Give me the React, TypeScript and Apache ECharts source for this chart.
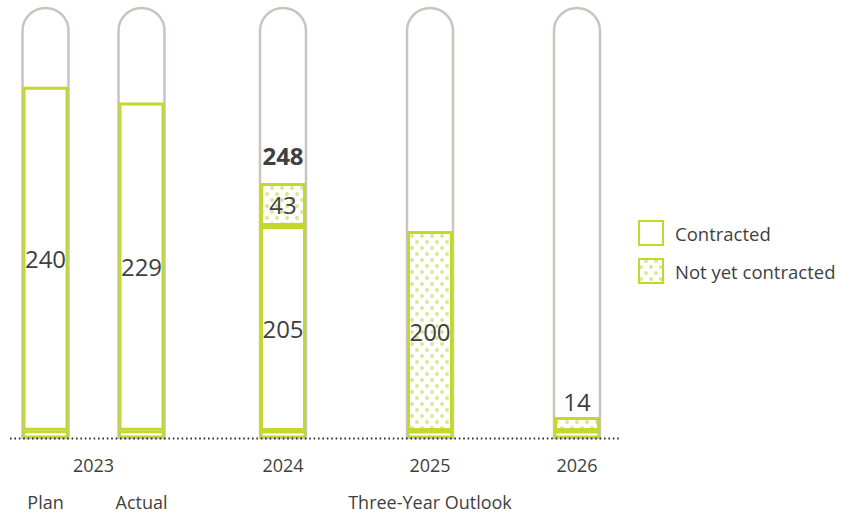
import React, { useEffect, useRef } from 'react';
import * as echarts from 'echarts';

// ---- data ----
const periods2023 = ['Plan', 'Actual'];
const contracted2023 = [240, 229];
const plinth2023 = [5, 5];

const outlookYears = ['2024', '2025', '2026'];
const contractedOutlook: (number | null)[] = [205, null, null];
const notContractedOutlook = [43, 200, 14];
const totalOutlook: (number | null)[] = [248, null, null];
const plinthOutlook = [7, 7, 7];

const legendNames = ['Contracted', 'Not yet contracted'];

// ---- style ----
const GREEN = '#c3d72c';
const DOT = '#d9e796';
const GREY = '#c9c5bd';
const TEXT = '#3f3f3f';
const FONT = "'Open Sans', sans-serif";

const dotDecal = {
  symbol: 'circle',
  symbolSize: 1,
  color: DOT,
  dashArrayX: [[4, 6], [0, 5, 4, 1]],
  dashArrayY: [4, 1.3],
  rotation: 0,
};

const contractedStyle = { color: '#ffffff', borderColor: GREEN, borderWidth: 3 };
const plinthStyle = { color: '#ffffff', borderColor: GREEN, borderWidth: 2.5 };
const notContractedStyle = { color: '#ffffff', borderColor: GREEN, borderWidth: 3, decal: dotDecal };

const valueLabel = {
  show: true,
  position: 'inside',
  color: TEXT,
  fontSize: 24,
  fontFamily: FONT,
};

export default function App() {
  const ref = useRef<HTMLDivElement>(null);

  useEffect(() => {
    document.body.style.margin = '0';
    const chart = echarts.init(ref.current!, undefined, { renderer: 'svg' });
    const BAR_W = 46;
    const background = {
      color: 'rgba(0,0,0,0)',
      borderColor: GREY,
      borderWidth: 2.5,
      borderRadius: [23, 23, 0, 0],
    };

    const option: any = {
      animation: false,
      aria: { enabled: false, decal: { show: false } },
      textStyle: { fontFamily: FONT },
      grid: [
        { left: -2.5, width: 192, top: 8, bottom: 77, outerBoundsMode: 'none', containLabel: false },
        { left: 209.5, width: 441, top: 8, bottom: 77, outerBoundsMode: 'none', containLabel: false },
      ],
      legend: {
        data: legendNames,
        orient: 'vertical',
        left: 633,
        top: 215,
        itemWidth: 24,
        itemHeight: 24,
        itemGap: 12,
        icon: 'rect',
        textStyle: { color: TEXT, fontSize: 18.5, fontFamily: FONT, padding: [0, 0, 0, 7] },
        selectedMode: false,
      },
      xAxis: [
        {
          type: 'category',
          gridIndex: 0,
          data: periods2023,
          axisLine: { show: false },
          axisTick: { show: false },
          axisLabel: { color: TEXT, fontSize: 18, margin: 55, fontFamily: FONT },
          name: '2023',
          nameLocation: 'middle',
          nameGap: 18,
          nameMoveOverlap: false,
          nameTextStyle: { color: TEXT, fontSize: 18, fontFamily: FONT, verticalAlign: 'top' },
        },
        {
          type: 'category',
          gridIndex: 1,
          data: outlookYears,
          axisLine: { show: false },
          axisTick: { show: false },
          axisLabel: { color: TEXT, fontSize: 18, margin: 18, fontFamily: FONT },
          name: 'Three-Year Outlook',
          nameLocation: 'middle',
          nameGap: 55,
          nameMoveOverlap: false,
          nameTextStyle: { color: TEXT, fontSize: 18, fontFamily: FONT, verticalAlign: 'top' },
        },
      ],
      yAxis: [
        { type: 'value', gridIndex: 0, min: 0, max: 300, show: false },
        { type: 'value', gridIndex: 1, min: 0, max: 430, show: false },
      ],
      graphic: [
        {
          type: 'line',
          z: 100,
          shape: { x1: 10, y1: 438.5, x2: 620, y2: 438.5 },
          style: { stroke: '#333333', lineWidth: 2, lineDash: [1.6, 2.8] },
        },
      ],
      series: [
        {
          name: 'plinth-2023',
          type: 'bar',
          xAxisIndex: 0,
          yAxisIndex: 0,
          stack: 'a',
          barWidth: BAR_W,
          data: plinth2023,
          itemStyle: plinthStyle,
          showBackground: true,
          backgroundStyle: background,
          silent: true,
        },
        {
          name: 'Contracted',
          type: 'bar',
          xAxisIndex: 0,
          yAxisIndex: 0,
          stack: 'a',
          barWidth: BAR_W,
          data: contracted2023,
          itemStyle: contractedStyle,
          label: valueLabel,
        },
        {
          name: 'plinth-outlook',
          type: 'bar',
          xAxisIndex: 1,
          yAxisIndex: 1,
          stack: 'o',
          barWidth: BAR_W,
          data: plinthOutlook,
          itemStyle: plinthStyle,
          showBackground: true,
          backgroundStyle: background,
          silent: true,
        },
        {
          name: 'Contracted',
          type: 'bar',
          xAxisIndex: 1,
          yAxisIndex: 1,
          stack: 'o',
          barWidth: BAR_W,
          data: contractedOutlook.map((v) => (v == null ? '-' : v)),
          itemStyle: contractedStyle,
          label: valueLabel,
        },
        {
          name: 'Not yet contracted',
          type: 'bar',
          xAxisIndex: 1,
          yAxisIndex: 1,
          stack: 'o',
          barWidth: BAR_W,
          data: notContractedOutlook.map((v, i) =>
            i === notContractedOutlook.length - 1
              ? { value: v, label: { position: 'top', distance: 4 } }
              : v
          ),
          itemStyle: notContractedStyle,
          label: valueLabel,
        },
        {
          name: 'total',
          type: 'bar',
          xAxisIndex: 1,
          yAxisIndex: 1,
          stack: 'o',
          barWidth: BAR_W,
          data: totalOutlook.map((t) => (t == null ? '-' : 0)),
          itemStyle: { color: 'rgba(0,0,0,0)', borderWidth: 0 },
          label: {
            show: true,
            position: 'top',
            distance: 16,
            color: TEXT,
            fontSize: 24,
            fontWeight: 'bold',
            fontFamily: FONT,
            formatter: (p: any) => (totalOutlook[p.dataIndex] == null ? '' : String(totalOutlook[p.dataIndex])),
          },
          silent: true,
        },
      ],
    };

    chart.setOption(option);
    return () => chart.dispose();
  }, []);

  return (
    <div
      ref={ref}
      style={{ position: 'fixed', left: 0, top: 0, width: 843, height: 515, background: '#ffffff' }}
    />
  );
}
